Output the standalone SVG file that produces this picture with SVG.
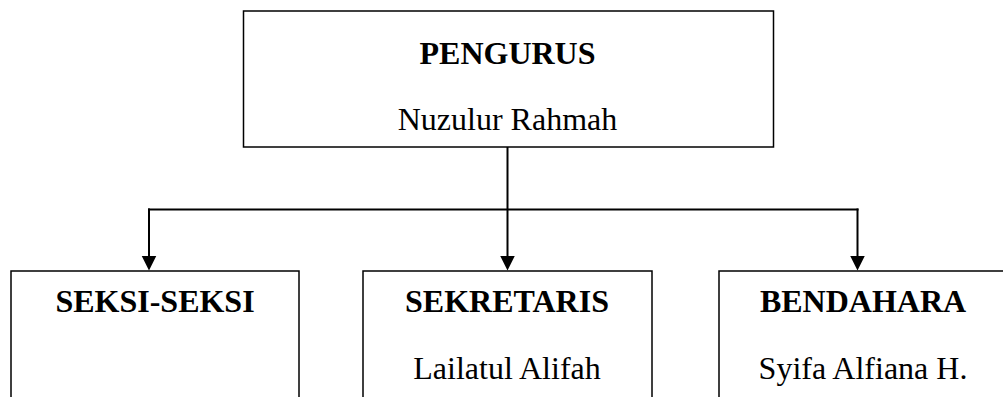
<svg xmlns="http://www.w3.org/2000/svg" width="1003" height="397" viewBox="0 0 1003 397">
  <style>
    .box { fill: #ffffff; stroke: #000000; stroke-width: 1.5; }
    .title { font-family: "Liberation Serif", "Times New Roman", serif; font-size: 32px; font-weight: bold; fill: #000000; text-anchor: middle; }
    .name { font-family: "Liberation Serif", "Times New Roman", serif; font-size: 32px; fill: #000000; text-anchor: middle; }
    .conn { fill: none; stroke: #000000; stroke-width: 2; }
  </style>
  <defs>
    <marker id="arrow" markerUnits="userSpaceOnUse" markerWidth="16" markerHeight="16" viewBox="0 0 16 16" refX="0.5" refY="8" orient="auto">
      <path d="M0,0.5 L15,8 L0,15.5 Z" fill="#000000"/>
    </marker>
  </defs>
  <rect width="1003" height="397" fill="#ffffff"/>
  <g id="connectors">
    <line class="conn" x1="507.5" y1="147" x2="507.5" y2="256" marker-end="url(#arrow)"/>
    <line class="conn" x1="148" y1="209.5" x2="858.5" y2="209.5"/>
    <line class="conn" x1="149" y1="208.5" x2="149" y2="256" marker-end="url(#arrow)"/>
    <line class="conn" x1="857.5" y1="208.5" x2="857.5" y2="256" marker-end="url(#arrow)"/>
  </g>
  <g id="pengurus">
    <rect class="box" x="243.5" y="11" width="530" height="136"/>
    <text class="title" x="507.5" y="64">PENGURUS</text>
    <text class="name" x="507.5" y="130">Nuzulur Rahmah</text>
  </g>
  <g id="seksi">
    <rect class="box" x="11" y="271" width="288" height="160"/>
    <text class="title" x="155" y="312">SEKSI-SEKSI</text>
  </g>
  <g id="sekretaris">
    <rect class="box" x="363" y="271" width="289" height="160"/>
    <text class="title" x="507" y="312">SEKRETARIS</text>
    <text class="name" x="507" y="379">Lailatul Alifah</text>
  </g>
  <g id="bendahara">
    <rect class="box" x="719" y="271" width="288" height="160"/>
    <text class="title" x="863" y="312">BENDAHARA</text>
    <text class="name" x="863" y="379">Syifa Alfiana H.</text>
  </g>
</svg>
